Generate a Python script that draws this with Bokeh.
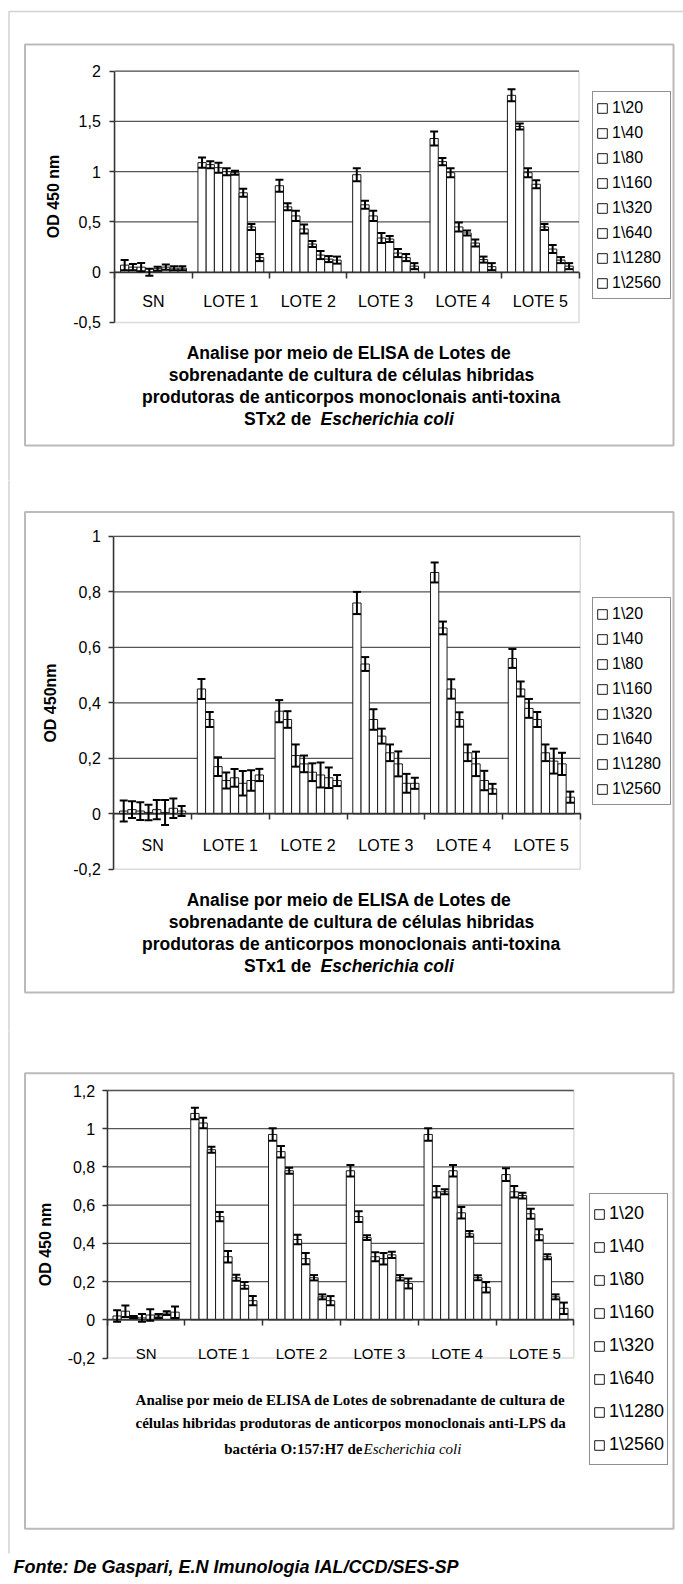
import math
from bokeh.plotting import figure
from bokeh.models import (ColumnDataSource, Range1d, LinearAxis, FixedTicker,
                          Whisker, TeeHead, Legend, LegendItem, Label,
                          BoxAnnotation, PolyAnnotation)
from bokeh.transform import dodge
from bokeh.layouts import column
from bokeh.embed import file_html
from bokeh.resources import INLINE

# ---------------- data ----------------
groups = ["SN", "LOTE 1", "LOTE 2", "LOTE 3", "LOTE 4", "LOTE 5"]
dilutions = ["1\\20", "1\\40", "1\\80", "1\\160", "1\\320", "1\\640", "1\\1280", "1\\2560"]

# Chart 1: anti-toxina STx2 (rows = groups, columns = dilutions)
stx2_means = [
    [0.07, 0.05, 0.05, 0.00, 0.035, 0.05, 0.04, 0.04],
    [1.09, 1.07, 1.04, 1.00, 0.99, 0.79, 0.45, 0.145],
    [0.86, 0.65, 0.56, 0.43, 0.28, 0.17, 0.13, 0.12],
    [0.97, 0.67, 0.56, 0.34, 0.33, 0.19, 0.145, 0.06],
    [1.33, 1.10, 0.99, 0.45, 0.39, 0.29, 0.125, 0.055],
    [1.76, 1.45, 0.99, 0.875, 0.45, 0.23, 0.12, 0.06],
]
stx2_errs = [
    [0.05, 0.03, 0.04, 0.035, 0.02, 0.025, 0.02, 0.02],
    [0.05, 0.035, 0.05, 0.035, 0.02, 0.04, 0.03, 0.035],
    [0.06, 0.035, 0.05, 0.045, 0.03, 0.04, 0.03, 0.035],
    [0.065, 0.04, 0.05, 0.05, 0.03, 0.04, 0.035, 0.03],
    [0.07, 0.035, 0.045, 0.045, 0.025, 0.035, 0.03, 0.035],
    [0.06, 0.03, 0.045, 0.04, 0.03, 0.04, 0.03, 0.03],
]
stx2_ticks = [-0.5, 0.0, 0.5, 1.0, 1.5, 2.0]
stx2_tick_labels = ["-0,5", "0", "0,5", "1", "1,5", "2"]

# Chart 2: anti-toxina STx1
stx1_means = [
    [0.01, 0.015, 0.01, 0.005, 0.015, 0.005, 0.02, 0.01],
    [0.45, 0.34, 0.17, 0.12, 0.13, 0.11, 0.12, 0.14],
    [0.37, 0.34, 0.21, 0.18, 0.15, 0.14, 0.13, 0.12],
    [0.76, 0.54, 0.34, 0.28, 0.22, 0.18, 0.11, 0.11],
    [0.87, 0.67, 0.45, 0.34, 0.22, 0.18, 0.12, 0.09],
    [0.56, 0.45, 0.38, 0.34, 0.22, 0.19, 0.18, 0.06],
]
stx1_errs = [
    [0.038, 0.03, 0.032, 0.028, 0.035, 0.045, 0.035, 0.018],
    [0.036, 0.027, 0.034, 0.029, 0.032, 0.044, 0.037, 0.022],
    [0.04, 0.03, 0.04, 0.03, 0.032, 0.045, 0.037, 0.02],
    [0.04, 0.025, 0.037, 0.027, 0.03, 0.045, 0.034, 0.02],
    [0.036, 0.023, 0.035, 0.026, 0.03, 0.044, 0.035, 0.018],
    [0.034, 0.027, 0.034, 0.027, 0.03, 0.045, 0.04, 0.02],
]
stx1_ticks = [-0.2, 0.0, 0.2, 0.4, 0.6, 0.8, 1.0]
stx1_tick_labels = ["-0,2", "0", "0,2", "0,4", "0,6", "0,8", "1"]

# Chart 3: anti-LPS O:157:H7
lps_means = [
    [0.02, 0.045, 0.015, 0.01, 0.025, 0.02, 0.035, 0.04],
    [1.08, 1.03, 0.89, 0.54, 0.33, 0.22, 0.18, 0.10],
    [0.97, 0.88, 0.78, 0.42, 0.32, 0.22, 0.12, 0.10],
    [0.78, 0.54, 0.43, 0.33, 0.32, 0.34, 0.22, 0.19],
    [0.97, 0.67, 0.67, 0.78, 0.56, 0.45, 0.22, 0.17],
    [0.76, 0.67, 0.65, 0.555, 0.445, 0.33, 0.12, 0.06],
]
lps_errs = [
    [0.03, 0.03, 0.005, 0.02, 0.03, 0.01, 0.01, 0.03],
    [0.03, 0.028, 0.016, 0.024, 0.03, 0.016, 0.018, 0.024],
    [0.033, 0.03, 0.016, 0.025, 0.029, 0.014, 0.013, 0.024],
    [0.03, 0.028, 0.013, 0.024, 0.03, 0.016, 0.014, 0.026],
    [0.033, 0.03, 0.013, 0.03, 0.03, 0.015, 0.013, 0.027],
    [0.033, 0.03, 0.015, 0.026, 0.029, 0.013, 0.013, 0.03],
]
lps_ticks = [-0.2, 0.0, 0.2, 0.4, 0.6, 0.8, 1.0, 1.2]
lps_tick_labels = ["-0,2", "0", "0,2", "0,4", "0,6", "0,8", "1", "1,2"]

# ---------------- styling / layout ----------------
SANS = "Liberation Sans"
SERIF = "Liberation Serif"
W = 683
SLOT = 1 / 9.4  # bar width in category units (8 bars + 140% gap)
NG = len(groups)
group_pos = [i + 0.5 for i in range(NG)]          # category centres on the x scale
group_edges = [float(i) for i in range(NG + 1)]   # category boundaries


def canvas_label(p, x, y, text, font=SANS, size="17.5px", style="bold", align="center", angle=0):
    p.add_layout(Label(x=x, y=y, x_units="canvas", y_units="canvas", text=text, angle=angle,
                       text_align=align, text_baseline="middle", text_font=font,
                       text_font_size=size, text_font_style=style, text_color="black"))


def canvas_box(p, left, right, top, bottom, color, width):
    p.add_layout(BoxAnnotation(left=left, right=right, top=top, bottom=bottom,
                               left_units="canvas", right_units="canvas",
                               top_units="canvas", bottom_units="canvas",
                               fill_alpha=0, line_color=color, line_width=width))


def make_chart(means, errs, ticks, tick_labels, H, box, cfg):
    # box = plot-area pixel box (L, R, T, B) inside a canvas-sized frame
    L, R, T, B = box
    ymin, ymax = ticks[0], ticks[-1]
    xs = NG / (R - L)
    ys = (ymax - ymin) / (B - T)
    p = figure(width=W, height=H, output_backend="svg", toolbar_location=None,
               x_range=Range1d(-L * xs, NG + (W - R) * xs),
               y_range=Range1d(ymin - (H - B) * ys, ymax + T * ys),
               x_axis_location=None, y_axis_location=None,
               min_border=0, min_border_left=0, min_border_right=0,
               min_border_top=0, min_border_bottom=0,
               background_fill_color="white", border_fill_color="white",
               outline_line_color=None)
    p.xgrid.visible = False
    p.ygrid.visible = False

    # horizontal gridlines across the plot area only (bottom edge is the border)
    p.segment(x0=0, x1=NG, y0=ticks[1:], y1=ticks[1:], line_color="#555555", line_width=1.3)
    # plot-area border
    p.add_layout(BoxAnnotation(left=0, right=NG, bottom=ymin, top=ymax, fill_alpha=0,
                               line_color="#8c8c8c", line_width=1.5, level="underlay"))

    renderers = []
    n = len(dilutions)
    for i, d in enumerate(dilutions):
        vals = [row[i] for row in means]
        ev = [row[i] for row in errs]
        src = ColumnDataSource(dict(gx=group_pos, group=groups, val=vals,
                                    up=[v + e for v, e in zip(vals, ev)],
                                    lo=[v - e for v, e in zip(vals, ev)]))
        off = (i - (n - 1) / 2) * SLOT
        r = p.vbar(x=dodge("gx", off), top="val", bottom=0,
                   width=SLOT, source=src, fill_color="white",
                   line_color="#1a1a1a", line_width=1)
        wh = Whisker(source=src, base=dodge("gx", off),
                     upper="up", lower="lo", line_color="black", line_width=2,
                     level="annotation",
                     upper_head=TeeHead(size=8, line_width=2, line_color="black"),
                     lower_head=TeeHead(size=8, line_width=2, line_color="black"))
        p.add_layout(wh)
        renderers.append(r)

    # y axis at the left edge of the plot area
    yax = LinearAxis(fixed_location=0, bounds=(ymin, ymax),
                     ticker=FixedTicker(ticks=ticks),
                     major_label_overrides={t: l for t, l in zip(ticks, tick_labels)},
                     major_label_text_font=SANS, major_label_text_font_size=cfg["tick_size"],
                     major_label_text_color="black", major_label_standoff=cfg["tick_standoff"],
                     major_tick_out=5, major_tick_in=0, minor_tick_line_color=None,
                     axis_line_color="#333333", axis_line_width=1.5,
                     major_tick_line_color="#333333", major_tick_line_width=1.5)
    p.add_layout(yax, "left")

    # category axis on the zero line; minor ticks mark the category boundaries
    xax = LinearAxis(fixed_location=0, bounds=(0, NG),
                     ticker=FixedTicker(ticks=group_pos, minor_ticks=group_edges),
                     major_label_overrides={g: t for g, t in zip(group_pos, groups)},
                     axis_line_color="#333333", axis_line_width=1.5,
                     major_tick_line_color=None, major_tick_out=0, major_tick_in=0,
                     minor_tick_line_color="#333333", minor_tick_line_width=1.5,
                     minor_tick_out=6, minor_tick_in=0,
                     major_label_standoff=cfg["cat_standoff"],
                     major_label_text_font=SANS,
                     major_label_text_font_size=cfg["cat_size"],
                     major_label_text_color="black")
    p.add_layout(xax, "below")

    legend = Legend(items=[LegendItem(label=d, renderers=[r]) for d, r in zip(dilutions, renderers)],
                    location=cfg["legend_loc"], orientation="vertical", margin=0,
                    padding=3, spacing=0, glyph_width=12, glyph_height=12,
                    label_standoff=4, label_width=55, label_height=cfg["legend_item_h"],
                    label_text_font=SANS, label_text_font_size=cfg["legend_size"],
                    label_text_color="black",
                    border_line_color="#222222", border_line_width=1,
                    background_fill_color="white", background_fill_alpha=1)
    p.add_layout(legend)
    return p


# ---------------- chart 1 ----------------
H1 = 480
p1 = make_chart(stx2_means, stx2_errs, stx2_ticks, stx2_tick_labels, H1,
                (114.3, 578.5, 70.7, 321.9),
                dict(tick_size="16px", tick_standoff=9, cat_standoff=15, cat_size="16px",
                     legend_loc=(592, H1 - 299), legend_item_h=25, legend_size="16px"))
canvas_box(p1, 8.5, 720, 11, 700, "#666666", 1.5)
canvas_box(p1, 24.5, 673, 44, 445, "#1a1a1a", 2)
canvas_label(p1, 53, 196, "OD 450 nm", size="16px", angle=math.pi / 2)
canvas_label(p1, 351, 352, "Analise por meio de ELISA  de Lotes de")
canvas_label(p1, 351, 374, "sobrenadante de cultura de células hibridas")
canvas_label(p1, 353, 396.5, "produtoras de anticorpos monoclonais  anti-toxina")
canvas_label(p1, 243.5, 418, "STx2 de", align="left")
canvas_label(p1, 320, 418, "Escherichia coli", style="bold italic", align="left")

# ---------------- chart 2 ----------------
H2 = 550
p2 = make_chart(stx1_means, stx1_errs, stx1_ticks, stx1_tick_labels, H2,
                (113.3, 579.7, 55.9, 388.8),
                dict(tick_size="16px", tick_standoff=8, cat_standoff=17, cat_size="16px",
                     legend_loc=(592, H2 - 325), legend_item_h=25, legend_size="16px"))
canvas_box(p2, 8.5, 720, -20, 700, "#666666", 1.5)
canvas_box(p2, 24.5, 673, 31.5, 512, "#1a1a1a", 2)
canvas_label(p2, 50, 222.5, "OD 450nm", size="16px", angle=math.pi / 2)
canvas_label(p2, 351, 419, "Analise por meio de ELISA  de Lotes de")
canvas_label(p2, 351, 441, "sobrenadante de cultura de células hibridas")
canvas_label(p2, 353, 463, "produtoras de anticorpos monoclonais  anti-toxina")
canvas_label(p2, 243.5, 485, "STx1 de", align="left")
canvas_label(p2, 320, 485, "Escherichia coli", style="bold italic", align="left")

# ---------------- chart 3 ----------------
H3 = 554
p3 = make_chart(lps_means, lps_errs, lps_ticks, lps_tick_labels, H3,
                (106.7, 573.3, 60.0, 327.5),
                dict(tick_size="16px", tick_standoff=7, cat_standoff=19, cat_size="15px",
                     legend_loc=(589, H3 - 435), legend_item_h=33, legend_size="18px"))
p3.add_layout(PolyAnnotation(xs=[8.5, 8.5], ys=[-20, 523], xs_units="canvas", ys_units="canvas",
                             fill_alpha=0, line_color="#666666", line_width=1.5))
canvas_box(p3, 24.5, 673, 42.7, 498.3, "#1a1a1a", 2)
canvas_label(p3, 45, 214, "OD 450 nm", size="16px", angle=math.pi / 2)
canvas_label(p3, 352, 369.3, "Analise por meio de ELISA  de Lotes de sobrenadante de cultura de",
             font=SERIF, size="15px")
canvas_label(p3, 352, 392.7, "células hibridas produtoras de anticorpos monoclonais  anti-LPS da",
             font=SERIF, size="15px")
canvas_label(p3, 362, 418.3, "bactéria O:157:H7 de", font=SERIF, size="15px", align="right")
canvas_label(p3, 363, 418.3, "Escherichia coli", font=SERIF, size="15px", style="italic",
             align="left")
canvas_label(p3, 13, 536.7, "Fonte: De Gaspari, E.N Imunologia IAL/CCD/SES-SP",
             size="18px", style="bold italic", align="left")

layout = column(p1, p2, p3, spacing=0)
open("out.html", "w").write(file_html(layout, INLINE))
